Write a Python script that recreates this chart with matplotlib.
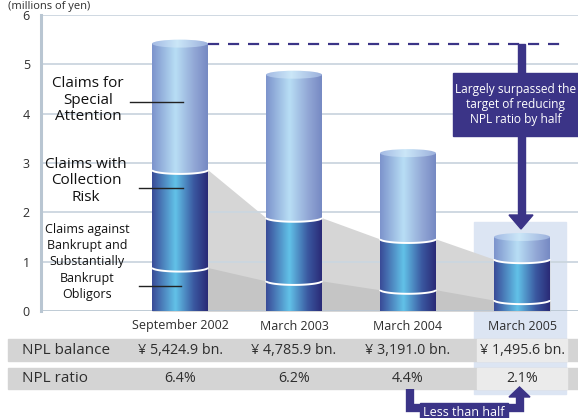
import numpy as np
import matplotlib
matplotlib.use("Agg")
import matplotlib.pyplot as plt
from matplotlib.patches import Ellipse, Rectangle, Polygon
from matplotlib.colors import LinearSegmentedColormap

# ---------------- data ----------------
categories = ["September 2002", "March 2003", "March 2004", "March 2005"]
bankrupt = [0.88, 0.61, 0.43, 0.22]
collection = [1.98, 1.28, 1.03, 0.83]
special = [2.56, 2.90, 1.74, 0.45]
npl_balance = ["¥ 5,424.9 bn.", "¥ 4,785.9 bn.", "¥ 3,191.0 bn.", "¥ 1,495.6 bn."]
npl_ratio = ["6.4%", "6.2%", "4.4%", "2.1%"]
row_labels = ["NPL balance", "NPL ratio"]
segment_labels = ["Claims against\nBankrupt and\nSubstantially\nBankrupt\nObligors",
                  "Claims with\nCollection\nRisk",
                  "Claims for\nSpecial\nAttention"]
yticks = [0, 1, 2, 3, 4, 5, 6]
unit_label = "(millions of yen)"
callout_text = "Largely surpassed the\ntarget of reducing\nNPL ratio by half"
half_text = "Less than half"

FONT = ["Open Sans", "DejaVu Sans"]
plt.rcParams['font.family'] = FONT

W, H = 578, 418
fig = plt.figure(figsize=(W / 100, H / 100), dpi=100)
fig.patch.set_facecolor("white")

def fx(px):
    return px / W

def fy(py):
    return 1 - py / H

PURPLE = "#3b3487"
TXT = "#2e2e2e"

# axes placement (pixel geometry)
ax = fig.add_axes([fx(41), fy(311), (W - 41) / W, (311 - 15) / H])
ax.set_facecolor("none")
pos = np.arange(len(categories))
sp = 114.0
c0 = 180.0
ax.set_xlim((41 - c0) / sp, (W - c0) / sp)
ax.set_ylim(0, 6)
bw = 56 / sp
eh = 8 / (296 / 6)

for s in ["top", "right", "bottom"]:
    ax.spines[s].set_visible(False)
ax.spines["left"].set_color("#b9c6d2")
ax.spines["left"].set_linewidth(2.2)
ax.set_xticks([])
ax.set_yticks(yticks)
ax.set_yticklabels([str(t) for t in yticks], fontsize=9, color=TXT)
ax.tick_params(axis="y", length=0, pad=8)
for t in yticks[1:]:
    ax.axhline(t, color="#cbd6df", lw=1.3, zorder=1.5)
ax.axhline(0, color="#b9c6d2", lw=2.0, zorder=1.5)

# highlight column (behind everything)
fig.patches.append(Rectangle((fx(474), fy(394)), fx(566) - fx(474), fy(222) - fy(394),
                             transform=fig.transFigure, color="#dce5f3", zorder=-1))

# grey wedges
risk_top = [b + c for b, c in zip(bankrupt, collection)]
xe, rt, bt = [], [], []
for i in range(len(categories)):
    xe += [pos[i] - bw / 2, pos[i] + bw / 2]
    rt += [risk_top[i], risk_top[i]]
    bt += [bankrupt[i], bankrupt[i]]
ax.fill_between(xe, 0, rt, color="#d6d6d6", lw=0, zorder=1)
ax.fill_between(xe, 0, bt, color="#c5c5c5", lw=0, zorder=1.1)

dark_cmap = LinearSegmentedColormap.from_list(
    "dark", [(0, "#394a97"), (0.42, "#62c2e8"), (0.75, "#3a58a0"), (1, "#2a2a76")])
light_cmap = LinearSegmentedColormap.from_list(
    "light", [(0, "#7c93cc"), (0.42, "#b8def5"), (0.75, "#93a8d6"), (1, "#7689c3")])
cap_cmap = LinearSegmentedColormap.from_list(
    "cap", [(0, "#a3b9e3"), (0.45, "#cbe7f8"), (1, "#9cb0dc")])
grad = np.linspace(0, 1, 256).reshape(1, -1)

def gradient_fill(patch, cmap, x0, x1, y0, y1, z):
    patch.set_facecolor("none")
    patch.set_edgecolor("none")
    patch.set_clip_on(False)
    ax.add_patch(patch)
    im = ax.imshow(grad, cmap=cmap, extent=[x0, x1, y0, y1], aspect="auto",
                   interpolation="bicubic", zorder=z)
    im.set_clip_path(patch)
    im.set_clip_box(None)

def segment(xc, y0, y1, cmap, z):
    t = np.linspace(np.pi, 2 * np.pi, 60)
    xs = xc + bw / 2 * np.cos(t)
    ys = y0 + eh / 2 * np.sin(t)
    verts = [(xc - bw / 2, y1)] + list(zip(xs, ys)) + [(xc + bw / 2, y1)]
    poly = Polygon(verts, closed=True)
    gradient_fill(poly, cmap, xc - bw / 2, xc + bw / 2, y0 - eh, y1 + eh, z)

def white_arc(xc, y):
    t = np.linspace(np.pi, 2 * np.pi, 60)
    ax.plot(xc + bw / 2 * np.cos(t), y + eh / 2 * np.sin(t), color="white",
            lw=1.4, zorder=4, clip_on=False, solid_capstyle="butt")

for i in range(len(categories)):
    xc = pos[i]
    b0 = 0
    b1 = bankrupt[i]
    b2 = b1 + collection[i]
    b3 = b2 + special[i]
    segment(xc, b0, b1, dark_cmap, 3.0)
    segment(xc, b1, b2, dark_cmap, 3.1)
    segment(xc, b2, b3, light_cmap, 3.2)
    white_arc(xc, b1)
    white_arc(xc, b2)
    cap = Ellipse((xc, b3), bw, eh)
    gradient_fill(cap, cap_cmap, xc - bw / 2, xc + bw / 2, b3 - eh, b3 + eh, 3.5)

# target dashed line at first bar's level
target = bankrupt[0] + collection[0] + special[0]
ax.plot([pos[0] + bw / 2, (566 - c0) / sp], [target, target], color=PURPLE,
        lw=1.6, ls=(0, (5, 4)), zorder=5)

# segment labels + leader lines (figure pixel coords)
lab_specs = [(87, 262, 9.0, 1.33, 139, 181, 286),
             (86, 181, 11.0, 1.12, 139, 183, 188),
             (88, 100, 11.0, 1.12, 130, 183, 102)]
for txt, (tx, ty, fs, ls, l0, l1, ly) in zip(segment_labels, lab_specs):
    fig.text(fx(tx), fy(ty), txt, ha="center", va="center", fontsize=fs,
             color="#111111", linespacing=ls)
    fig.add_artist(plt.Line2D([fx(l0), fx(l1)], [fy(ly), fy(ly)], color="#222222",
                              lw=1.0, transform=fig.transFigure, zorder=6))

fig.text(fx(8), fy(6), unit_label, ha="left", va="center", fontsize=8, color=TXT)

# callout arrow + box
arrow_x = 521
fig.add_artist(Rectangle((fx(arrow_x - 3.5), fy(216)), fx(7), fy(44) - fy(216),
                         transform=fig.transFigure, color=PURPLE, zorder=7))
fig.add_artist(Polygon([(fx(509), fy(215)), (fx(533), fy(215)), (fx(arrow_x), fy(229))],
                       closed=True, transform=fig.transFigure, color=PURPLE, zorder=7))
fig.add_artist(Rectangle((fx(453), fy(136)), fx(140), fy(73) - fy(136),
                         transform=fig.transFigure, color=PURPLE, zorder=8))
fig.text(fx(515.5), fy(104.5), callout_text, ha="center", va="center", fontsize=8.6,
         color="white", linespacing=1.15, zorder=9)

# table rows
for (y0, y1) in [(339, 361), (368, 389)]:
    fig.patches.append(Rectangle((fx(8), fy(y1)), fx(570), fy(y0) - fy(y1),
                                 transform=fig.transFigure, color="#d4d4d4", zorder=-0.5))
    fig.patches.append(Rectangle((fx(477), fy(y1)), fx(90), fy(y0) - fy(y1),
                                 transform=fig.transFigure, color="#ebebeb", zorder=-0.4))

for i, cat in enumerate(categories):
    cx = c0 + sp * pos[i]
    fig.text(fx(cx), fy(326), cat, ha="center", va="center", fontsize=9, color=TXT)
    fig.text(fx(cx), fy(350), npl_balance[i], ha="center", va="center", fontsize=10.3, color=TXT)
    fig.text(fx(cx), fy(378.5), npl_ratio[i], ha="center", va="center", fontsize=10.3, color=TXT)
fig.text(fx(22), fy(350), row_labels[0], ha="left", va="center", fontsize=11, color=TXT)
fig.text(fx(22), fy(378.5), row_labels[1], ha="left", va="center", fontsize=11, color=TXT)

# "Less than half" bracket arrow
bx = [fx(410), fx(410), fx(519.5), fx(519.5)]
by = [fy(389), fy(408), fy(408), fy(396)]
fig.add_artist(plt.Line2D(bx, by, color=PURPLE, lw=6, transform=fig.transFigure,
                          solid_joinstyle="miter", solid_capstyle="butt", zorder=7))
fig.add_artist(Polygon([(fx(509), fy(397)), (fx(530), fy(397)), (fx(519.5), fy(387))],
                       closed=True, transform=fig.transFigure, color=PURPLE, zorder=7))
fig.add_artist(Rectangle((fx(420), fy(420)), fx(88), fy(403) - fy(420),
                         transform=fig.transFigure, color=PURPLE, zorder=8))
fig.text(fx(464), fy(412), half_text, ha="center", va="center", fontsize=9,
         color="white", zorder=9)

fig.savefig("out.png", dpi=100)
